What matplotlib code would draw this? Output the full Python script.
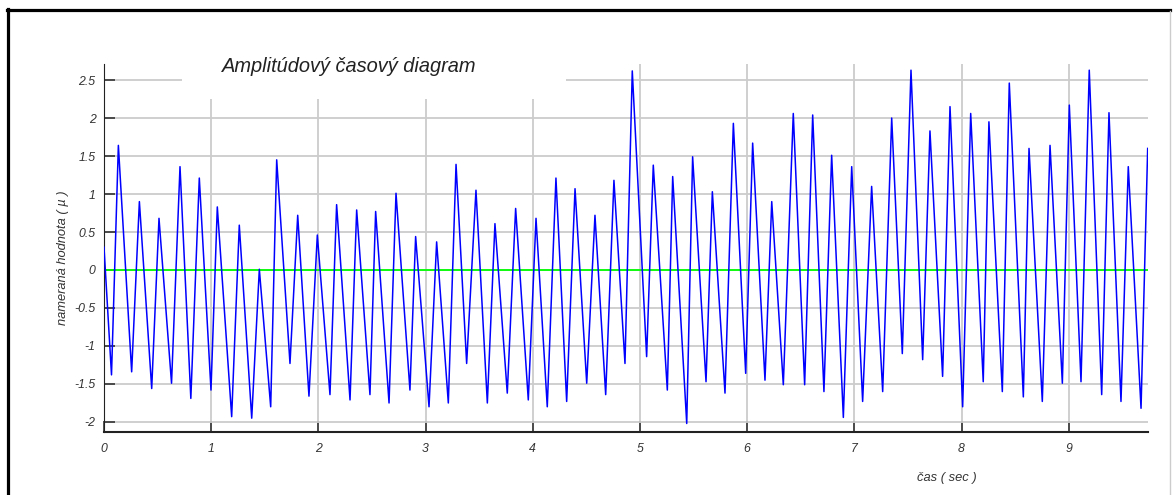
import matplotlib
matplotlib.use('Agg')
import matplotlib.pyplot as plt
from matplotlib.lines import Line2D
from matplotlib.patches import Rectangle

# values: start point, then troughs and peaks of each cycle
start_t, start_v = 0.0, 0.3
trough_t = [0.07, 0.258, 0.445, 0.63, 0.81, 0.998, 1.191, 1.378, 1.555, 1.735,
            1.912, 2.108, 2.295, 2.481, 2.659, 2.854, 3.032, 3.212, 3.383, 3.576,
            3.762, 3.958, 4.135, 4.316, 4.503, 4.68, 4.86, 5.062, 5.255, 5.436,
            5.616, 5.793, 5.986, 6.166, 6.337, 6.536, 6.716, 6.897, 7.077, 7.264,
            7.447, 7.637, 7.823, 8.01, 8.202, 8.38, 8.576, 8.753, 8.94, 9.114,
            9.307, 9.487, 9.674]
trough_v = [-1.38, -1.34, -1.56, -1.49, -1.69, -1.58, -1.93, -1.95, -1.80, -1.23,
            -1.66, -1.64, -1.71, -1.64, -1.75, -1.58, -1.80, -1.75, -1.23, -1.75,
            -1.62, -1.71, -1.80, -1.73, -1.49, -1.64, -1.23, -1.14, -1.58, -2.02,
            -1.47, -1.62, -1.36, -1.45, -1.51, -1.51, -1.60, -1.94, -1.73, -1.60,
            -1.10, -1.18, -1.40, -1.80, -1.47, -1.60, -1.67, -1.73, -1.49, -1.47,
            -1.64, -1.73, -1.82]
peak_t = [0.134, 0.33, 0.513, 0.709, 0.889, 1.057, 1.262, 1.449, 1.611, 1.807,
          1.99, 2.17, 2.357, 2.534, 2.724, 2.907, 3.103, 3.284, 3.47, 3.647,
          3.84, 4.03, 4.216, 4.394, 4.58, 4.757, 4.928, 5.124, 5.305, 5.491,
          5.675, 5.871, 6.051, 6.229, 6.43, 6.611, 6.788, 6.975, 7.161, 7.348,
          7.528, 7.705, 7.892, 8.085, 8.255, 8.445, 8.629, 8.825, 9.005, 9.191,
          9.375, 9.555, 9.736]
peak_v = [1.64, 0.90, 0.68, 1.36, 1.21, 0.83, 0.59, 0.01, 1.45, 0.72,
          0.46, 0.86, 0.79, 0.77, 1.01, 0.44, 0.37, 1.39, 1.05, 0.61,
          0.81, 0.68, 1.21, 1.07, 0.72, 1.18, 2.62, 1.38, 1.23, 1.49,
          1.03, 1.93, 1.67, 0.90, 2.06, 2.04, 1.51, 1.36, 1.10, 2.00,
          2.63, 1.83, 2.15, 2.06, 1.95, 2.46, 1.60, 1.64, 2.17, 2.63,
          2.07, 1.36, 1.60]

y_ticks = [-2, -1.5, -1, -0.5, 0, 0.5, 1, 1.5, 2, 2.5]
y_tick_labels = ['-2', '-1.5', '-1', '-0.5', '0', '0.5', '1', '1.5', '2', '2.5']
x_ticks = [0, 1, 2, 3, 4, 5, 6, 7, 8, 9]

title = 'Amplitúdový časový diagram'
x_label = 'čas ( sec )'
y_label = 'nameraná hodnota ( µ )'

# alternate trough / peak into one trace
t = [start_t]
v = [start_v]
for i in range(len(peak_t)):
    t += [trough_t[i], peak_t[i]]
    v += [trough_v[i], peak_v[i]]

plt.rcParams['font.family'] = ['Liberation Sans', 'DejaVu Sans']
W, H = 1173, 495
fig = plt.figure(figsize=(W / 100, H / 100), dpi=100)
ax = fig.add_axes([104 / W, 1 - 432 / H, 1044 / W, 368 / H])

ax.plot(t, v, color='#0000ff', lw=1.1, zorder=3)
ax.axhline(0, color='#00ff00', lw=1.3, zorder=2)

ax.set_xlim(0, 9.739)
ax.set_ylim(-2.132, 2.711)
ax.set_xticks(x_ticks)
ax.set_xticklabels([str(x) for x in x_ticks])
ax.set_yticks(y_ticks)
ax.set_yticklabels(y_tick_labels)
ax.grid(True, color='#cccccc', lw=1.3)
ax.set_axisbelow(True)
ax.tick_params(direction='in', length=8, width=1.2, color='#333333',
               labelcolor='#333333', labelsize=8.8)
ax.tick_params(axis='x', pad=8)
ax.tick_params(axis='y', pad=6)
for lab in ax.get_xticklabels() + ax.get_yticklabels():
    lab.set_fontstyle('italic')
ax.spines['top'].set_visible(False)
ax.spines['right'].set_visible(False)
ax.spines['left'].set_color('#222222')
ax.spines['bottom'].set_color('#222222')
ax.spines['bottom'].set_linewidth(1.5)

# white box behind the title that hides part of the grid
ax.add_patch(Rectangle((182 / W, 1 - 99 / H), 384 / W, 40 / H,
                       transform=fig.transFigure, facecolor='white',
                       edgecolor='none', clip_on=False, zorder=2.5))
fig.text(349 / W, 1 - 67 / H, title, ha='center', va='center',
         fontsize=14.4, fontstyle='italic', color='#222222')
fig.text(947 / W, 1 - 478 / H, x_label, ha='center', va='center',
         fontsize=9.3, fontstyle='italic', color='#333333')
fig.text(63 / W, 1 - 258 / H, y_label, ha='center', va='center',
         rotation=90, fontsize=9.3, fontstyle='italic', color='#333333')

# frame around the picture
fig.add_artist(Line2D([8 / W, 8 / W], [0, 1 - 9 / H], color='black', lw=2.3))
fig.add_artist(Line2D([7 / W, 1170 / W], [1 - 10 / H, 1 - 10 / H], color='black', lw=2.3))
fig.add_artist(Line2D([1170 / W, 1170 / W], [0, 1 - 11 / H], color='#cccccc', lw=1.0))

fig.savefig('out.png', dpi=100)
